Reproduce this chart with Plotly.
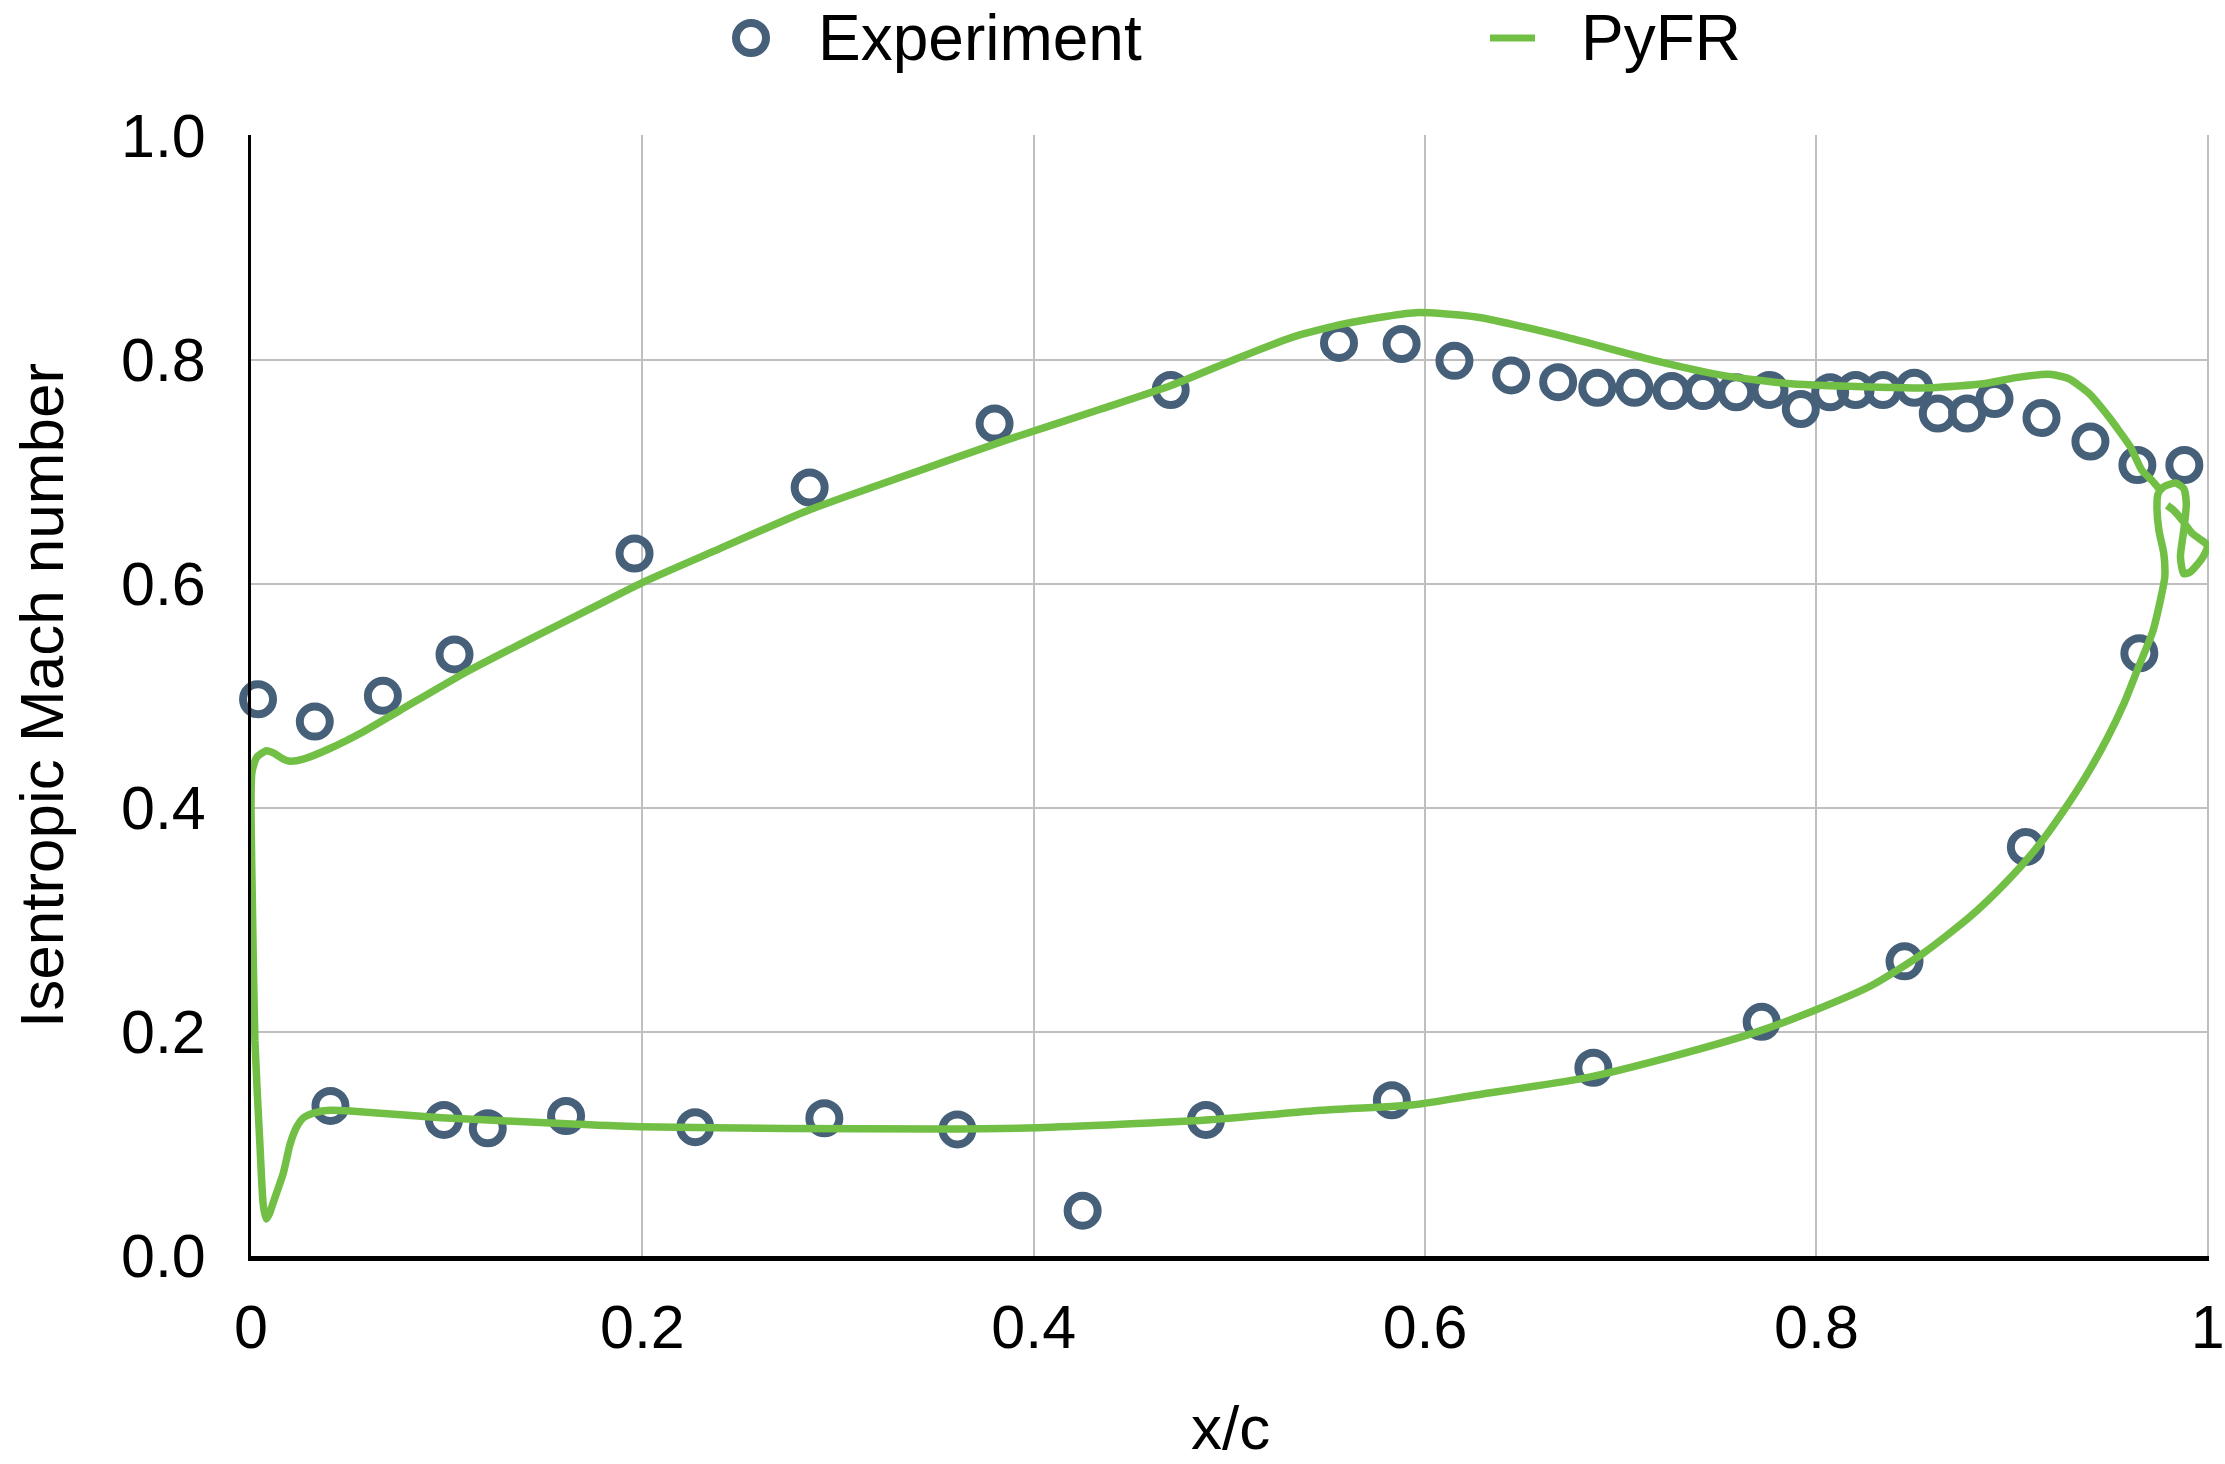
import plotly.graph_objects as go

# Experimental isentropic Mach number, suction side then pressure side
exp_x = [0.0036, 0.0326, 0.0674, 0.104, 0.196, 0.2855, 0.380, 0.470, 0.556, 0.588,
         0.615, 0.644, 0.668, 0.688, 0.707, 0.726, 0.742, 0.759, 0.776, 0.792,
         0.807, 0.820, 0.834, 0.850, 0.862, 0.877, 0.891, 0.915, 0.940, 0.964,
         0.988,
         0.965, 0.907, 0.845, 0.772, 0.686, 0.583, 0.488, 0.425, 0.361, 0.293,
         0.227, 0.161, 0.121, 0.0986, 0.0406]
exp_m = [0.497, 0.477, 0.500, 0.537, 0.627, 0.686, 0.743, 0.773, 0.815, 0.814,
         0.799, 0.786, 0.780, 0.775, 0.775, 0.772, 0.772, 0.771, 0.773, 0.756,
         0.771, 0.773, 0.773, 0.775, 0.752, 0.752, 0.765, 0.748, 0.727, 0.706,
         0.706,
         0.538, 0.365, 0.263, 0.209, 0.168, 0.139, 0.1215, 0.0405, 0.113, 0.123,
         0.115, 0.125, 0.114, 0.1215, 0.134]

# PyFR surface distribution: suction side (TE -> LE), pressure side (LE -> TE), wake loop
pyfr_x = [0.975, 0.9716, 0.9664, 0.9605, 0.9545, 0.9494, 0.9392, 0.929, 0.919, 0.902,
          0.885, 0.859, 0.832, 0.787, 0.752, 0.718, 0.6726, 0.627, 0.595, 0.5585,
          0.532, 0.4995, 0.4702, 0.4344, 0.3855, 0.3367, 0.2846, 0.239, 0.2005, 0.1738,
          0.1413, 0.1087, 0.0761, 0.0574, 0.0403, 0.0267, 0.0199, 0.0165, 0.0114, 0.008,
          0.0029, 0.0005, 0.0,
          0.0008, 0.002, 0.0046, 0.0063, 0.0078, 0.0095, 0.0114, 0.0165, 0.020, 0.0233,
          0.0269, 0.033, 0.0403, 0.0506, 0.0972, 0.1558, 0.1988, 0.273, 0.3513, 0.402,
          0.488, 0.5467, 0.5943, 0.6235, 0.682, 0.726, 0.770, 0.7992, 0.8284, 0.8547,
          0.8782, 0.8972, 0.9133, 0.9265, 0.9382, 0.9484, 0.9572, 0.9645, 0.9718, 0.9762,
          0.978, 0.9775, 0.975, 0.974, 0.9745,
          0.977, 0.9835, 0.9877, 0.989, 0.9877, 0.986, 0.9877, 0.991, 0.997, 1.0,
          0.997, 0.992, 0.987, 0.9826, 0.9792]
pyfr_m = [0.685, 0.692, 0.701, 0.722, 0.737, 0.749, 0.770, 0.783, 0.787, 0.784,
          0.7785, 0.775, 0.7755, 0.7785, 0.786, 0.799, 0.820, 0.838, 0.842, 0.832,
          0.820, 0.798, 0.777, 0.756, 0.728, 0.698, 0.6655, 0.631, 0.6015, 0.578,
          0.5495, 0.520, 0.487, 0.468, 0.453, 0.4435, 0.4417, 0.4435, 0.449, 0.451,
          0.445, 0.432, 0.406,
          0.305, 0.192, 0.098, 0.045, 0.033, 0.038, 0.048, 0.074, 0.100, 0.115,
          0.1235, 0.128, 0.130, 0.1295, 0.1235, 0.1184, 0.1153, 0.1139, 0.1133, 0.1145,
          0.1213, 0.130, 0.135, 0.143, 0.159, 0.178, 0.2003, 0.2194, 0.2417, 0.2704,
          0.3024, 0.3342, 0.366, 0.398, 0.4297, 0.4615, 0.4934, 0.5254, 0.557, 0.589,
          0.606, 0.627, 0.6477, 0.6684, 0.680,
          0.686, 0.690, 0.685, 0.6715, 0.6477, 0.624, 0.609, 0.6105, 0.6226, 0.634,
          0.6387, 0.645, 0.6566, 0.6655, 0.670]

x_ticks = [0, 0.2, 0.4, 0.6, 0.8, 1.0]
x_tick_text = ["0", "0.2", "0.4", "0.6", "0.8", "1"]
y_ticks = [0, 0.2, 0.4, 0.6, 0.8, 1.0]
y_tick_text = ["0.0", "0.2", "0.4", "0.6", "0.8", "1.0"]

FONT = "Liberation Sans, Arial, Helvetica, sans-serif"
GREEN = "#71bf44"
SLATE = "#46607a"
GRID = "#bfbfbf"

MARKER = dict(symbol="circle-open", size=30, color=SLATE,
              line=dict(width=8, color=SLATE))

fig = go.Figure()

fig.add_trace(go.Scatter(
    x=exp_x, y=exp_m, mode="markers", name="Experiment",
    marker=MARKER, cliponaxis=False, showlegend=False,
))

fig.add_trace(go.Scatter(
    x=pyfr_x, y=pyfr_m, mode="lines", name="PyFR",
    line=dict(color=GREEN, width=7.5, shape="spline", smoothing=0.6),
    showlegend=False,
))

fig.update_layout(
    width=2225, height=1464,
    margin=dict(l=251, r=16, t=135, b=208, autoexpand=False),
    paper_bgcolor="white", plot_bgcolor="white",
    font=dict(family=FONT, size=61, color="black"),
    showlegend=False,
)

fig.update_xaxes(
    range=[0, 1.0006], tickvals=x_ticks, ticktext=x_tick_text,
    showgrid=True, gridcolor=GRID, gridwidth=2,
    showline=True, linecolor="black", linewidth=5,
    zeroline=False, ticks="", ticklabelstandoff=14,
    tickfont=dict(size=61), automargin=False,
)
fig.update_yaxes(
    range=[0, 1.0006], tickvals=y_ticks, ticktext=y_tick_text,
    showgrid=True, gridcolor=GRID, gridwidth=2,
    showline=True, linecolor="black", linewidth=3,
    zeroline=False, ticks="", ticklabelstandoff=30,
    tickfont=dict(size=61), automargin=False,
)

# Axis titles
fig.add_annotation(text="x/c", xref="paper", yref="paper", x=0.5, y=-0.153,
                   xanchor="center", yanchor="middle", showarrow=False,
                   font=dict(size=62))
fig.add_annotation(text="Isentropic Mach number", xref="paper", yref="paper",
                   x=-0.107, y=0.5, xanchor="center", yanchor="middle",
                   textangle=-90, showarrow=False, font=dict(size=62))

# Legend row above the plot: ring key, line key and their labels
LEG_Y = 1.0865
fig.add_shape(type="circle", xref="paper", yref="paper",
              xsizemode="pixel", ysizemode="pixel",
              xanchor=(751 - 251) / 1958, yanchor=LEG_Y,
              x0=-15, x1=15, y0=-15, y1=15,
              line=dict(color=SLATE, width=8), fillcolor="rgba(0,0,0,0)")
fig.add_shape(type="line", xref="paper", yref="paper",
              x0=(1490 - 251) / 1958, x1=(1535 - 251) / 1958,
              y0=LEG_Y, y1=LEG_Y, line=dict(color=GREEN, width=7))
fig.add_annotation(text="Experiment", xref="paper", yref="paper",
                   x=(816 - 251) / 1958, y=LEG_Y, xanchor="left", yanchor="middle",
                   showarrow=False, font=dict(size=64))
fig.add_annotation(text="PyFR", xref="paper", yref="paper",
                   x=(1579 - 251) / 1958, y=LEG_Y, xanchor="left", yanchor="middle",
                   showarrow=False, font=dict(size=64))

fig.write_html("out.html")
